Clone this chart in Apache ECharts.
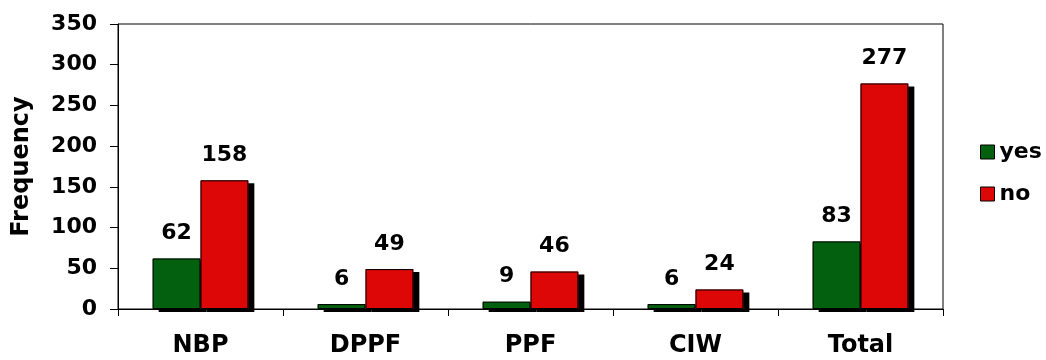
<!DOCTYPE html>
<html><head><meta charset="utf-8">
<script src="https://cdn.jsdelivr.net/npm/echarts@6/dist/echarts.min.js"></script>
<style>html,body{margin:0;padding:0;background:#fff}#c{width:1046px;height:360px}</style>
</head><body><div id="c"></div>
<script>
const categories = ['NBP', 'DPPF', 'PPF', 'CIW', 'Total'];
const yesValues = [62, 6, 9, 6, 83];
const noValues = [158, 49, 46, 24, 277];
const seriesNames = ['yes', 'no'];
const FONT = 'DejaVu Sans';
const GREEN = '#03600f', RED = '#de0707';
const chart = echarts.init(document.getElementById('c'), null, {renderer: 'canvas'});
const labelCfg = {show: true, position: 'top', distance: 14, color: '#000', fontFamily: FONT, fontWeight: 'bold', fontSize: 22};
const shadow = {shadowColor: '#000', shadowBlur: 0, shadowOffsetX: 6, shadowOffsetY: 3};
const bar = (name, data, axis, style, label) => ({
  name, type: 'bar', data, xAxisIndex: axis, barGap: '0%', barCategoryGap: '42%',
  itemStyle: style, label: label || {show: false}, z: 2 + axis
});
chart.setOption({
  animation: false,
  grid: {left: 118, right: 103, top: 24, bottom: 51, show: true, borderColor: '#000', borderWidth: 1},
  legend: {
    orient: 'vertical', left: 975, top: 136, itemWidth: 14, itemHeight: 14, itemGap: 20, icon: 'rect',
    itemStyle: {borderColor: '#000', borderWidth: 1, shadowBlur: 0, shadowOffsetX: 0, shadowOffsetY: 0, shadowColor: 'transparent'},
    textStyle: {fontFamily: FONT, fontWeight: 'bold', fontSize: 22, color: '#000'},
    data: seriesNames
  },
  xAxis: [{
    type: 'category', data: categories,
    axisLine: {lineStyle: {color: '#000', width: 1}},
    axisTick: {show: true, length: 7, lineStyle: {color: '#000'}},
    axisLabel: {color: '#000', fontFamily: FONT, fontWeight: 'bold', fontSize: 24, margin: 25}
  }, {
    type: 'category', data: categories, show: false, position: 'bottom'
  }],
  yAxis: {
    type: 'value', min: 0, max: 350, interval: 50,
    name: 'Frequency', nameLocation: 'middle', nameGap: 84, nameRotate: 90,
    nameTextStyle: {color: '#000', fontFamily: FONT, fontWeight: 'bold', fontSize: 24},
    axisLine: {show: true, lineStyle: {color: '#000', width: 1}},
    axisTick: {show: true, length: 8, lineStyle: {color: '#000'}},
    splitLine: {show: false},
    axisLabel: {color: '#000', fontFamily: FONT, fontWeight: 'bold', fontSize: 22, margin: 21}
  },
  series: [
    bar(seriesNames[0], yesValues, 0, Object.assign({color: GREEN, borderWidth: 0}, shadow), labelCfg),
    bar(seriesNames[1], noValues, 0, Object.assign({color: RED, borderWidth: 0}, shadow), labelCfg),
    bar('yes-outline', yesValues, 1, {color: 'transparent', borderColor: '#000', borderWidth: 1}),
    bar('no-outline', noValues, 1, {color: 'transparent', borderColor: '#000', borderWidth: 1})
  ]
});
</script></body></html>
